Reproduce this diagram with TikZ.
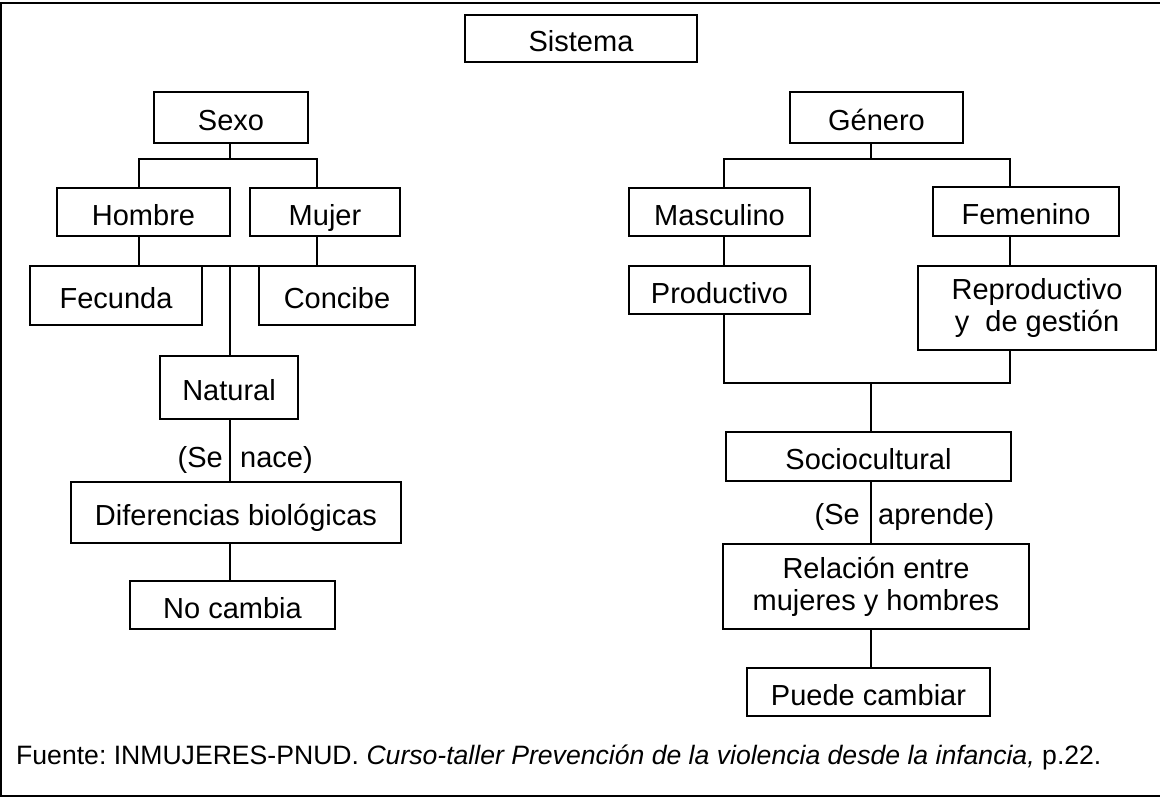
\documentclass[tikz,border=0pt]{standalone}
\usepackage{fontspec}
\setmainfont{Liberation Sans}
\frenchspacing
\begin{document}
\begin{tikzpicture}[x=1pt,y=-1pt,
  box/.style={draw, line width=2pt, inner sep=0pt, font=\fontsize{29}{32}\selectfont, text height=26.5pt, text depth=0pt},
  boxtwo/.style={draw, line width=2pt, inner sep=0pt, font=\fontsize{29}{32}\selectfont, align=center},
  conn/.style={line width=1.8pt},
  lbl/.style={inner sep=0pt, font=\fontsize{29}{32}\selectfont},
]
\useasboundingbox (0,0) rectangle (1160,797);
\draw[line width=2.5pt] (1161,3) -- (1,3) -- (1,796) -- (1161,796);

% left tree
\node[box, minimum width=232pt, minimum height=47pt] (sis) at (581,38.5) {Sistema};
\node[box, minimum width=154pt, minimum height=51pt] (sexo) at (231,117.5) {Sexo};
\node[box, minimum width=173pt, minimum height=48pt] (hombre) at (143.5,212) {Hombre};
\node[box, minimum width=150pt, minimum height=48pt] (mujer) at (325,212) {Mujer};
\node[box, minimum width=172pt, minimum height=59pt] (fecunda) at (116,295.5) {Fecunda};
\node[box, minimum width=156pt, minimum height=59pt] (concibe) at (337,295.5) {Concibe};
\node[box, minimum width=138pt, minimum height=63pt] (natural) at (229,387.5) {Natural};
\node[box, minimum width=330pt, minimum height=61pt] (dif) at (236,512.5) {Diferencias biológicas};
\node[box, minimum width=205pt, minimum height=48pt] (nocam) at (232.5,605) {No cambia};

% right tree
\node[box, minimum width=173pt, minimum height=51pt] (genero) at (876.5,117.5) {Género};
\node[box, minimum width=181pt, minimum height=48pt] (masc) at (719.5,212) {Masculino};
\node[box, minimum width=186pt, minimum height=49pt] (fem) at (1026,211.5) {Femenino};
\node[box, minimum width=181pt, minimum height=48pt] (prod) at (719.5,290) {Productivo};
\node[boxtwo, minimum width=238pt, minimum height=84pt] (repro) at (1037,308) {Reproductivo\\y\ \ de gestión};
\node[box, minimum width=285pt, minimum height=49pt] (soc) at (868.5,456.5) {Sociocultural};
\node[boxtwo, minimum width=306pt, minimum height=85pt] (rel) at (876,586.5) {Relación entre\\mujeres y hombres};
\node[box, minimum width=243pt, minimum height=48pt] (puede) at (868.5,692) {Puede cambiar};

% left connectors
\coordinate (sxL) at (139,159);
\coordinate (sxM) at (230,159);
\coordinate (sxR) at (317,159);
\draw[conn] (sexo.south -| sxM) -- (sxM);
\draw[conn] (hombre.north -| sxL) -- (sxL) -- (sxR) -- (mujer.north -| sxR);
\coordinate (hfL) at (139,266);
\coordinate (hfM) at (230,266);
\coordinate (hfR) at (317,266);
\draw[conn] (hombre.south -| hfL) -- (hfL) -- (hfR) -- (mujer.south -| hfR);
\draw[conn] (hfM) -- (natural.north -| hfM);
\draw[conn] (natural.south -| hfM) -- (dif.north -| hfM);
\draw[conn] (dif.south -| hfM) -- (nocam.north -| hfM);

% right connectors
\coordinate (gL) at (724,159);
\coordinate (gM) at (871,159);
\coordinate (gR) at (1010,159);
\draw[conn] (genero.south -| gM) -- (gM);
\draw[conn] (masc.north -| gL) -- (gL) -- (gR) -- (fem.north -| gR);
\draw[conn] (masc.south -| gL) -- (prod.north -| gL);
\draw[conn] (fem.south -| gR) -- (repro.north -| gR);
\coordinate (pL) at (724,383);
\coordinate (pM) at (871,383);
\coordinate (pR) at (1010,383);
\draw[conn] (prod.south -| pL) -- (pL) -- (pR) -- (repro.south -| pR);
\draw[conn] (pM) -- (soc.north -| pM);
\draw[conn] (soc.south -| pM) -- (rel.north -| pM);
\draw[conn] (rel.south -| pM) -- (puede.north -| pM);

% labels
\node[lbl, anchor=base east] (se1) at (223,467) {(Se};
\node[lbl, anchor=base west] (nace) at (240,467) {nace)};
\node[lbl, anchor=base east] (se2) at (860,524) {(Se};
\node[lbl, anchor=base west] (apr) at (878,524) {aprende)};

% footer
\node[anchor=base west, inner sep=0pt, font=\fontsize{26.6}{30}\selectfont] (fuente) at (16,764) {Fuente: INMUJERES-PNUD. \textit{Curso-taller Prevención de la violencia desde la infancia,} p.22.};
\end{tikzpicture}
\end{document}
